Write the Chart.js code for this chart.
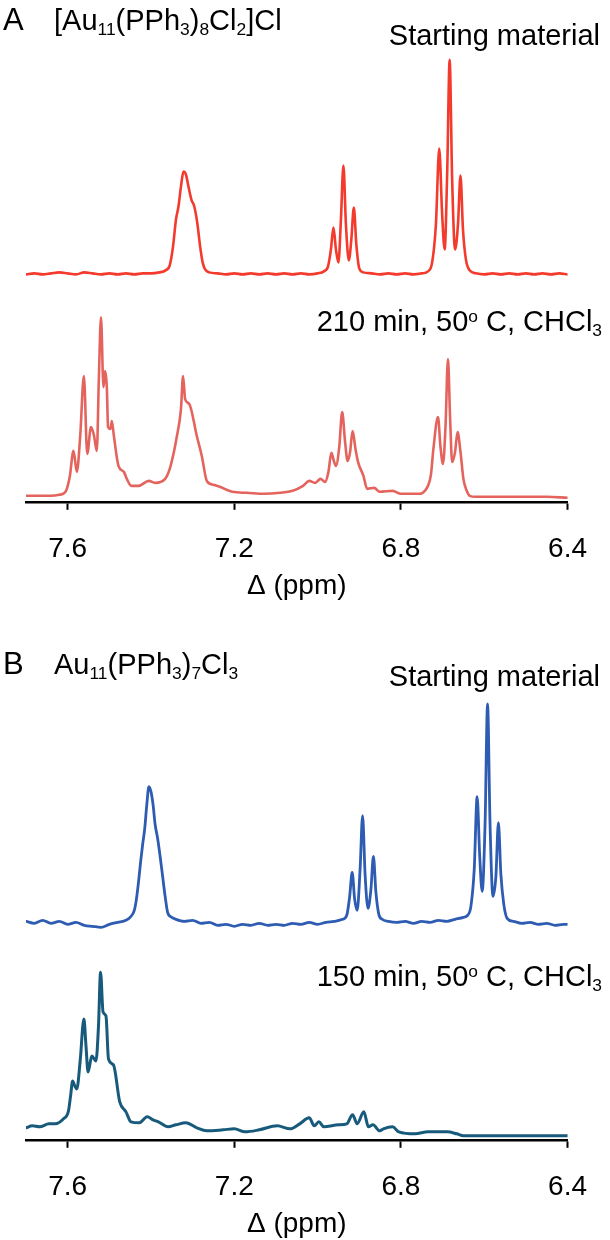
<!DOCTYPE html>
<html>
<head>
<meta charset="utf-8">
<script src="https://cdn.jsdelivr.net/npm/chart.js@4.4.1/dist/chart.umd.min.js"></script>
<style>
  body { margin: 0; background: #fff; }
  #fig { position: relative; width: 610px; height: 1240px; overflow: hidden; font-family: "Liberation Sans", Arial, sans-serif; color: #000; }
  canvas { position: absolute; left: 0; }
  .lbl { position: absolute; line-height: 1; white-space: nowrap; font-size: 29px; }
  .big { font-size: 31px; }
  .lbl sub { font-size: 0.6em; vertical-align: -0.3em; line-height: 0; }
  .lbl sup { font-size: 0.6em; vertical-align: 0.5em; line-height: 0; }
</style>
</head>
<body>
<div id="fig">
  <canvas id="chartA" width="610" height="603" style="top:0px"></canvas>
  <canvas id="chartB" width="610" height="621" style="top:620px"></canvas>

  <div class="lbl big" style="left:3px; top:4px">A</div>
  <div class="lbl" style="left:54px; top:6px">[Au<sub>11</sub>(PPh<sub>3</sub>)<sub>8</sub>Cl<sub>2</sub>]Cl</div>
  <div class="lbl" style="right:10px; top:21px">Starting material</div>
  <div class="lbl" style="right:8px; top:307px">210 min, 50<sup>o</sup> C, CHCl<sub>3</sub></div>

  <div class="lbl big" style="left:3px; top:648px">B</div>
  <div class="lbl" style="left:54px; top:650px">Au<sub>11</sub>(PPh<sub>3</sub>)<sub>7</sub>Cl<sub>3</sub></div>
  <div class="lbl" style="right:10px; top:662px">Starting material</div>
  <div class="lbl" style="right:8px; top:962px">150 min, 50<sup>o</sup> C, CHCl<sub>3</sub></div>
</div>

<script>
// tick labels for the shift axis (ppm)
const xTicks = [7.6, 7.2, 6.8, 6.4];

// Panel A, starting material [Au11(PPh3)8Cl2]Cl
const ppmA1 = [
    7.70, 7.68, 7.66, 7.64, 7.62, 7.60, 7.58, 7.56, 7.54, 7.52,
    7.50, 7.48, 7.46, 7.44, 7.42, 7.40, 7.38, 7.365, 7.355, 7.347,
    7.34, 7.334, 7.328, 7.322, 7.316, 7.31, 7.303, 7.296, 7.289, 7.282,
    7.276, 7.27, 7.26, 7.24, 7.22, 7.20, 7.18, 7.16, 7.14, 7.12,
    7.10, 7.08, 7.06, 7.04, 7.02, 7.00, 6.985, 6.975, 6.968, 6.962,
    6.956, 6.950, 6.944, 6.938, 6.932, 6.925, 6.919, 6.913, 6.907, 6.900,
    6.89, 6.87, 6.85, 6.83, 6.81, 6.79, 6.77, 6.75, 6.735, 6.725,
    6.716, 6.708, 6.701, 6.695, 6.689, 6.683, 6.677, 6.670, 6.663, 6.657,
    6.651, 6.644, 6.635, 6.62, 6.60, 6.58, 6.56, 6.54, 6.52, 6.50,
    6.48, 6.46, 6.44, 6.42, 6.40
];
const intA1 = [
    0, 1, 0, 1, 2, 1, 0, 2, 1, 0,
    1, 0, 1, 0, 1, 1, 2, 4, 9, 28,
    55, 68, 88, 103, 100, 88, 75, 68, 52, 28,
    12, 5, 2, 1, 0, 1, 0, 1, 0, 1,
    0, 1, 0, 1, 0, 1, 3, 8, 25, 47,
    25, 12, 55, 109, 50, 14, 35, 67, 30, 6,
    2, 1, 0, 1, 0, 1, 0, 1, 3, 12,
    50, 126, 60, 25, 100, 215, 95, 25, 50, 99,
    45, 15, 4, 1, 0, 1, 0, 1, 0, 1,
    0, 1, 0, 1, 0
];

// Panel A, after 210 min at 50 C in CHCl3
const ppmA2 = [
    7.70, 7.67, 7.64, 7.62, 7.605, 7.595, 7.586, 7.578, 7.570, 7.561,
    7.553, 7.544, 7.537, 7.530, 7.525, 7.520, 7.514, 7.510, 7.506, 7.503,
    7.497, 7.494, 7.489, 7.478, 7.465, 7.458, 7.447, 7.43, 7.405, 7.39,
    7.366, 7.355, 7.345, 7.339, 7.328, 7.323, 7.318, 7.308, 7.29, 7.278,
    7.266, 7.25, 7.235, 7.205, 7.17, 7.128, 7.09, 7.06, 7.035, 7.02,
    7.006, 6.993, 6.982, 6.974, 6.967, 6.961, 6.956, 6.948, 6.941, 6.934,
    6.928, 6.922, 6.916, 6.909, 6.903, 6.890, 6.881, 6.864, 6.851, 6.82,
    6.80, 6.76, 6.735, 6.728, 6.722, 6.711, 6.705, 6.699, 6.693, 6.687,
    6.682, 6.677, 6.670, 6.664, 6.657, 6.650, 6.642, 6.635, 6.62, 6.60,
    6.55, 6.50, 6.45, 6.40
];
const intA2 = [
    1, 1, 1, 2, 5, 20, 46, 25, 60, 121,
    43, 70, 62, 46, 120, 180, 110, 126, 110, 70,
    68, 76, 61, 31, 25, 18, 11, 11, 16, 14,
    18, 28, 45, 58, 88, 121, 98, 93, 61, 41,
    16, 12, 10, 5, 4, 3, 4, 6, 11, 16,
    14, 18, 15, 25, 44, 36, 31, 50, 85, 55,
    36, 45, 66, 48, 35, 21, 8, 9, 5, 6,
    3, 3, 11, 22, 48, 80, 50, 33, 70, 138,
    80, 35, 45, 65, 45, 18, 6, 1, 0, 0,
    0, 0, 0, -1
];

// Panel B, starting material Au11(PPh3)7Cl3
const ppmB1 = [
    7.70, 7.68, 7.66, 7.64, 7.62, 7.60, 7.58, 7.56, 7.54, 7.52,
    7.50, 7.48, 7.46, 7.45, 7.44, 7.435, 7.43, 7.425, 7.42, 7.415,
    7.41, 7.405, 7.40, 7.395, 7.39, 7.384, 7.378, 7.372, 7.366, 7.36,
    7.35, 7.34, 7.32, 7.30, 7.28, 7.26, 7.24, 7.22, 7.20, 7.18,
    7.16, 7.14, 7.12, 7.10, 7.08, 7.06, 7.04, 7.02, 7.00, 6.98,
    6.96, 6.94, 6.93, 6.923, 6.917, 6.911, 6.905, 6.898, 6.892, 6.886,
    6.879, 6.872, 6.866, 6.86, 6.853, 6.845, 6.83, 6.81, 6.79, 6.77,
    6.75, 6.73, 6.71, 6.69, 6.67, 6.65, 6.64, 6.632, 6.624, 6.617,
    6.611, 6.605, 6.598, 6.592, 6.586, 6.579, 6.572, 6.566, 6.56, 6.553,
    6.545, 6.53, 6.51, 6.49, 6.47, 6.45, 6.43, 6.41, 6.40
];
const intB1 = [
    3, 1, 4, 1, 3, 0, 2, -1, -2, -3,
    0, 2, 4, 7, 14, 25, 42, 62, 80, 96,
    120, 138, 133, 120, 100, 86, 68, 48, 28, 12,
    7, 5, 3, 4, 1, 2, -1, 0, -2, 0,
    -1, 1, -1, 0, -1, 1, 0, 2, 0, 2,
    3, 5, 9, 28, 52, 25, 14, 55, 109, 50,
    16, 35, 68, 32, 10, 5, 3, 2, 3, 1,
    3, 2, 4, 3, 5, 7, 9, 18, 55, 128,
    70, 33, 100, 221, 100, 28, 48, 102, 50, 20,
    6, 3, 1, 2, 0, 1, -1, 0, 0
];

// Panel B, after 150 min at 50 C in CHCl3
const ppmB2 = [
    7.70, 7.685, 7.667, 7.645, 7.63, 7.61, 7.598, 7.593, 7.588, 7.583,
    7.578, 7.57, 7.561, 7.556, 7.551, 7.542, 7.532, 7.526, 7.521, 7.515,
    7.508, 7.502, 7.49, 7.475, 7.46, 7.448, 7.428, 7.409, 7.395, 7.382,
    7.359, 7.34, 7.316, 7.29, 7.266, 7.227, 7.2, 7.174, 7.14, 7.097,
    7.066, 7.043, 7.02, 7.008, 6.997, 6.985, 6.95, 6.93, 6.916, 6.905,
    6.889, 6.878, 6.867, 6.851, 6.842, 6.82, 6.805, 6.766, 6.735, 6.712,
    6.689, 6.666, 6.65, 6.60, 6.55, 6.50, 6.45, 6.40
];
const intB2 = [
    8, 10, 9, 12, 12, 17, 25, 40, 55, 50,
    47, 75, 117, 90, 64, 80, 75, 110, 164, 124,
    120, 77, 71, 34, 24, 14, 13, 19, 16, 14,
    9, 11, 13, 8, 5, 6, 7, 4, 6, 10,
    7, 12, 18, 10, 14, 9, 11, 12, 21, 12,
    24, 9, 11, 5, 7, 9, 4, 2, 4, 4,
    4, 2, 0, 0, 0, 0, 0, 0
];

// vertical offset of the upper trace in each panel
const offsetA = 223;
const offsetB = 212;

Chart.defaults.font.family = '"Liberation Sans", Arial, sans-serif';
Chart.defaults.color = "#000";

function toPoints(ppm, vals, shift) {
    return ppm.map((p, i) => ({ x: p, y: vals[i] + shift }));
}

function lineSet(points, color, width) {
    return {
        data: points,
        borderColor: color,
        borderWidth: width,
        pointRadius: 0,
        fill: false,
        cubicInterpolationMode: "monotone",
        borderJoinStyle: "round",
        borderCapStyle: "round"
    };
}

function makeSpectrum(canvasId, datasets, yMin, yMax) {
    const ctx = document.getElementById(canvasId).getContext("2d");
    return new Chart(ctx, {
        type: "line",
        data: { datasets },
        options: {
            responsive: false,
            animation: false,
            events: [],
            layout: { padding: { left: 26, right: 22, top: 10, bottom: 0 } },
            plugins: { legend: { display: false }, tooltip: { enabled: false } },
            scales: {
                x: {
                    type: "linear",
                    reverse: true,
                    min: 6.4,
                    max: 7.7,
                    afterBuildTicks: scale => {
                        scale.ticks = xTicks.map(v => ({ value: v }));
                    },
                    grid: {
                        drawOnChartArea: false,
                        drawTicks: true,
                        tickLength: 8,
                        tickWidth: 2,
                        tickColor: "#000"
                    },
                    border: { display: true, color: "#000", width: 2.5 },
                    ticks: {
                        color: "#000",
                        font: { size: 28 },
                        padding: 23,
                        maxRotation: 0,
                        callback: v => v.toFixed(1)
                    },
                    title: {
                        display: true,
                        text: "\u0394 (ppm)",
                        color: "#000",
                        font: { size: 28 },
                        padding: { top: -20, bottom: 0 }
                    }
                },
                y: { display: false, min: yMin, max: yMax }
            }
        }
    });
}

makeSpectrum("chartA", [
    lineSet(toPoints(ppmA1, intA1, offsetA), "#f33a2c", 2.6),
    lineSet(toPoints(ppmA2, intA2, 0), "#e4645d", 2.6)
], -5, 488);

makeSpectrum("chartB", [
    lineSet(toPoints(ppmB1, intB1, offsetB), "#2d5cb2", 2.8),
    lineSet(toPoints(ppmB2, intB2, 0), "#175a7c", 3)
], -4, 507);
</script>
</body>
</html>
